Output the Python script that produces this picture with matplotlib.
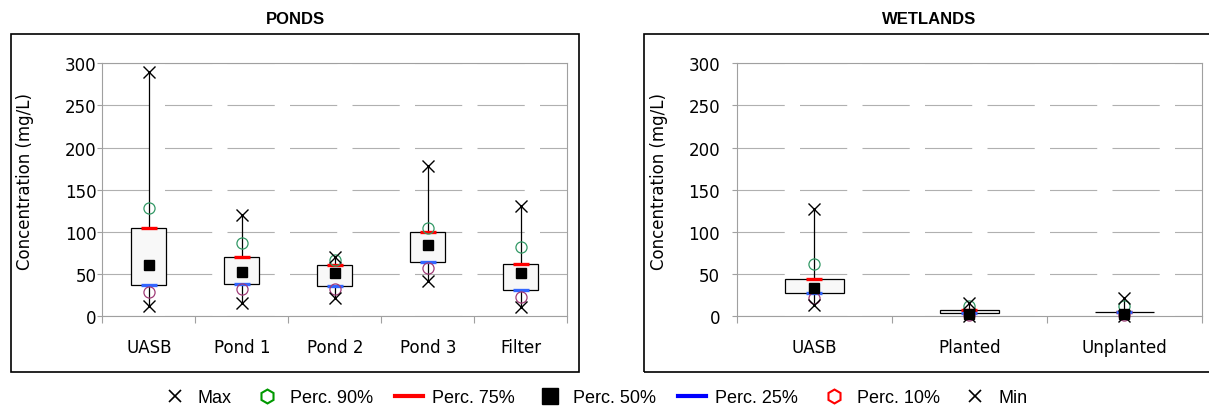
import numpy as np
import matplotlib
matplotlib.use('Agg')
import matplotlib.pyplot as plt
from matplotlib.lines import Line2D
from matplotlib.patches import Rectangle

plt.rcParams['lines.scale_dashes'] = False
plt.rcParams['font.family'] = 'DejaVu Sans'

# PONDS
ponds_cats = ['UASB', 'Pond 1', 'Pond 2', 'Pond 3', 'Filter']
ponds_max = [290, 120, 70, 177.5, 130]
ponds_p90 = [128, 87, 66, 104, 82]
ponds_p75 = [104, 69.5, 60.5, 100, 62]
ponds_p50 = [61, 52, 50.5, 84, 50.5]
ponds_p25 = [36.5, 38, 35.5, 64.5, 31]
ponds_p10 = [29, 32.5, 32, 57.5, 22]
ponds_min = [12, 15, 21.5, 41, 10.5]

# WETLANDS
wet_cats = ['UASB', 'Planted', 'Unplanted']
wet_max = [127.5, 16, 21]
wet_p90 = [62, 12, 12]
wet_p75 = [43.5, 7.5, 5]
wet_p50 = [33.5, 2.5, 2.5]
wet_p25 = [27, 4, 4.5]
wet_p10 = [21.5, 1, 1]
wet_min = [12.5, 0.5, 0]

W, H = 1209, 410
fig = plt.figure(figsize=(W / 100, H / 100), dpi=100)

# outer chart frames
fig.add_artist(Rectangle((10.7 / W, (H - 373) / H), 568.6 / W, 338 / H,
                         transform=fig.transFigure, fill=False, ec='black', lw=1.2))
fig.add_artist(Rectangle((644.3 / W, (H - 373) / H), 570 / W, 338 / H,
                         transform=fig.transFigure, fill=False, ec='black', lw=1.2))

ax_b, ax_h = (H - 317) / H, (317 - 64.3) / H
ax1 = fig.add_axes([102.3 / W, ax_b, 465 / W, ax_h])
ax2 = fig.add_axes([736.7 / W, ax_b, 465 / W, ax_h])


def draw_panel(ax, cats, vmax, p90, p75, p50, p25, p10, vmin, ypad):
    x = np.arange(1, len(cats) + 1)
    ax.vlines(x, vmin, vmax, color='black', lw=0.9, zorder=2)
    ax.bar(x, np.subtract(p75, p25), bottom=p25, width=0.38, color='#f8f8f8',
           edgecolor='black', lw=0.9, zorder=3)
    kw = dict(ls='none', clip_on=False, zorder=4)
    ax.plot(x, p75, marker='_', ms=11, mew=2.4, color='#ff0000', **kw)
    ax.plot(x, p25, marker='_', ms=11, mew=2.4, color='#3366ff', **kw)
    ax.plot(x, p90, marker='o', ms=8, mfc='none', mew=0.9, color='#339966', **kw)
    ax.plot(x, p10, marker='o', ms=8, mfc='none', mew=0.9, color='#a03c78', **kw)
    ax.plot(x, p50, marker='s', ms=6.7, color='black', **kw)
    ax.plot(x, vmax, marker='x', ms=8.4, mew=1.0, color='black', **kw)
    ax.plot(x, vmin, marker='x', ms=8.4, mew=1.0, color='black', **kw)

    ax.set_xlim(0.5, len(cats) + 0.5)
    ax.set_ylim(0, 300)
    ax.set_yticks(np.arange(0, 301, 50))
    ax.set_xticks(x)
    ax.set_xticklabels(cats, fontsize=12)
    ax.set_xticks(np.arange(0.5, len(cats) + 1, 1), minor=True)
    ax.tick_params(axis='x', which='major', length=0, pad=16)
    ax.tick_params(axis='x', which='minor', length=5, color='#a0a0a0', width=0.8)
    ax.tick_params(axis='y', length=3.6, color='#a0a0a0', width=0.8, pad=ypad, labelsize=12)
    ax.yaxis.grid(True, color='#b0b0b0', lw=0.8, ls=(0, (34, 11)))
    ax.set_axisbelow(True)
    for s in ax.spines.values():
        s.set_color('#a0a0a0')
        s.set_linewidth(0.8)
    ax.set_ylabel('Concentration (mg/L)', fontsize=12)
    ax.yaxis.set_label_coords(-0.147, 0.535)


draw_panel(ax1, ponds_cats, ponds_max, ponds_p90, ponds_p75, ponds_p50,
           ponds_p25, ponds_p10, ponds_min, 0.5)
draw_panel(ax2, wet_cats, wet_max, wet_p90, wet_p75, wet_p50,
           wet_p25, wet_p10, wet_min, 8.4)

fig.text(295 / W, 1 - 19 / H, 'PONDS', ha='center', va='center',
         fontsize=12, fontweight='bold', family='Liberation Sans')
fig.text(929 / W, 1 - 19 / H, 'WETLANDS', ha='center', va='center',
         fontsize=12, fontweight='bold', family='Liberation Sans')

handles = [
    Line2D([], [], ls='none', marker='x', ms=9, mew=1.2, color='black'),
    Line2D([], [], ls='none', marker='h', ms=10, mfc='none', mew=1.5, color='#009900'),
    Line2D([], [], color='#ff0000', lw=3),
    Line2D([], [], ls='none', marker='s', ms=11, color='black'),
    Line2D([], [], color='#0000ff', lw=3),
    Line2D([], [], ls='none', marker='h', ms=10, mfc='none', mew=1.5, color='#ff0000'),
    Line2D([], [], ls='none', marker='x', ms=9, mew=1.2, color='black'),
]
labels = ['Max', 'Perc. 90%', 'Perc. 75%', 'Perc. 50%', 'Perc. 25%', 'Perc. 10%', 'Min']
fig.legend(handles, labels, ncol=7, loc='center', bbox_to_anchor=(594 / W, 11 / H),
           frameon=False, handlelength=1.55, handletextpad=0.5, columnspacing=1.2,
           prop={'family': 'Liberation Sans', 'size': 13})

fig.savefig('out.png', dpi=100)
